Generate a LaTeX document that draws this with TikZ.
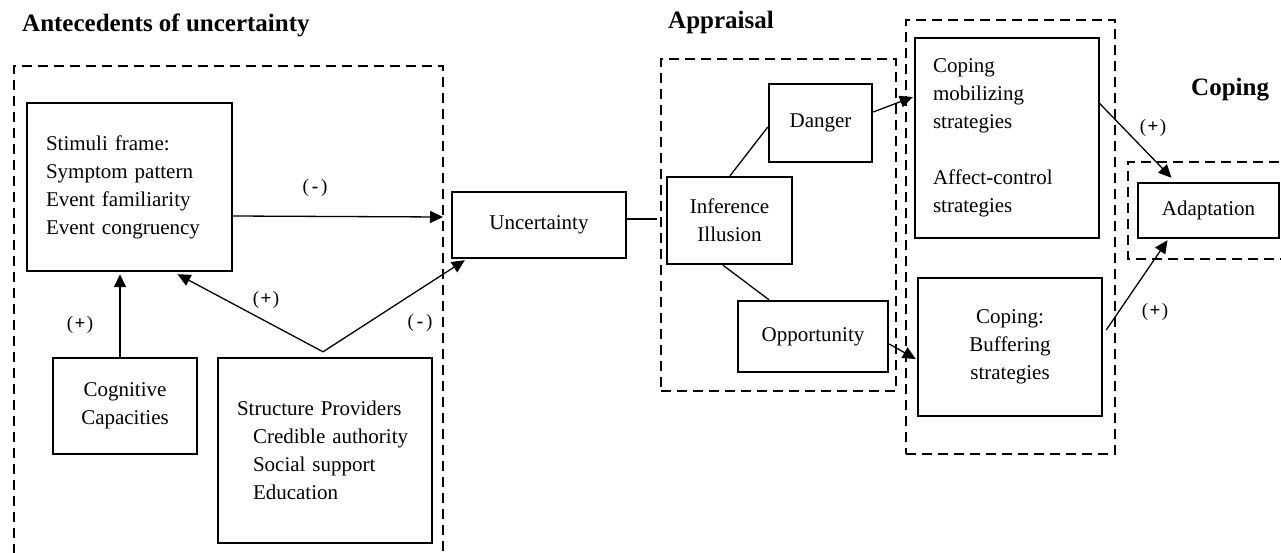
\documentclass[tikz,border=0pt]{standalone}
\usepackage{fontspec}
\setmainfont{Liberation Serif}
\usetikzlibrary{arrows.meta,calc}
\begin{document}
\begin{tikzpicture}[x=1pt,y=-1pt,
  box/.style={draw,line width=2.4pt,inner sep=0pt,font=\fontsize{21}{28}\selectfont},
  frame/.style={draw,line width=2pt,dash pattern=on 10pt off 6pt},
  arr/.style={line width=1.3pt,-{Triangle[length=13pt,width=12pt]}},
  conn/.style={line width=1.3pt},
  lab/.style={font=\fontsize{19}{19}\selectfont,inner sep=0pt},
  ttl/.style={font=\bfseries\fontsize{25}{25}\selectfont,inner sep=0pt,anchor=west}]
\useasboundingbox (0,0) rectangle (1281,552);

% titles
\node[ttl] (t1) at (22,25) {Antecedents of uncertainty};
\node[ttl] (t2) at (668,22) {Appraisal};
\node[ttl] (t3) at (1191,90) {Coping};

% dashed frames
\draw[frame] (14,570) -- (14,66) -- (443,66) -- (443,570);
\coordinate (lfr) at (443,66);
\node[frame,minimum width=235pt,minimum height=332pt,inner sep=0pt] (apf) at (778.5,225) {};
\node[frame,minimum width=209pt,minimum height=434pt,inner sep=0pt] (cpf) at (1010.5,237) {};
\draw[frame] (1295,162) -- (1128,162) -- (1128,259) -- (1295,259);

% boxes
\node[box,minimum width=205pt,minimum height=168pt,text width=167pt,inner xsep=19pt,align=left] (stim) at (129.5,187)
  {Stimuli frame:\\Symptom pattern\\Event familiarity\\Event congruency};
\node[box,minimum width=144pt,minimum height=96pt,text width=130pt,align=center] (cog) at (125,406)
  {Cognitive\\Capacities};
\node[box,minimum width=214pt,minimum height=185pt,text width=176pt,inner xsep=19pt,align=left] (sp) at (325,450.5)
  {Structure Providers\\\hspace*{16pt}Credible authority\\\hspace*{16pt}Social support\\\hspace*{16pt}Education};
\node[box,minimum width=174pt,minimum height=66pt] (unc) at (539,225) {Uncertainty};
\node[box,minimum width=125pt,minimum height=87pt,text width=115pt,align=center] (inf) at (729.5,220.5) {Inference\\Illusion};
\node[box,minimum width=103pt,minimum height=78pt] (dan) at (820.5,123) {Danger};
\node[box,minimum width=150pt,minimum height=71pt] (opp) at (813,336.5) {Opportunity};
\node[box,minimum width=184pt,minimum height=200pt,text width=148pt,inner xsep=18pt,align=left] (cm) at (1007,138)
  {Coping\\mobilizing\\strategies\\[28pt]Affect-control\\strategies};
\node[box,minimum width=184pt,minimum height=138pt,text width=170pt,align=center] (buf) at (1010,347)
  {Coping:\\Buffering\\strategies};
\node[box,minimum width=141pt,minimum height=55pt] (ad) at (1208.5,210.5) {Adaptation};

% connectors
\draw[arr] ($(stim.east)+(0,29)$) -- ($(unc.west -| lfr)+(0,-8)$);
\coordinate (sj) at ($(sp.north)+(-2,-5)$);
\draw[arr] (sj) -- ($(unc.south west)+(14,1)$);
\draw[arr] (sj) -- ($(stim.south)+(48,2)$);
\draw[arr] ($(cog.north)+(-5,0)$) -- ($(cog.north |- stim.south)+(-5,2)$);
\draw[conn] ($(unc.east)+(0,-6)$) -- ($(unc.east -| apf.west)+(-3,-6)$);
\draw[conn] ($(inf.north)+(0.5,0)$) -- ($(dan.west)+(0,4)$);
\draw[conn] ($(inf.south)+(-6.5,0)$) -- ($(opp.north)+(-44,0)$);
\draw[arr] ($(dan.east)+(0,-11)$) -- ($(cm.west)+(-1,-41)$);
\draw[arr] ($(opp.east)+(0,7.5)$) -- ($(buf.west)+(-1,12)$);
\draw[arr] ($(cm.east)+(-2,-36)$) -- ($(ad.north)+(-37,-4)$);
\draw[arr] ($(buf.east)+(3,-17)$) -- ($(ad.south)+(-41,1)$);

% labels
\node[lab] (m1) at (315,188) {(\kern3pt\textbf{-}\kern3pt)};
\node[lab] (p1) at (266,300) {(\kern1.5pt\textbf{+}\kern1.5pt)};
\node[lab] (m2) at (420,323) {(\kern3pt\textbf{-}\kern3pt)};
\node[lab] (p2) at (80,325) {(\kern1.5pt\textbf{+}\kern1.5pt)};
\node[lab] (p3) at (1153,128) {(\kern1.5pt\textbf{+}\kern1.5pt)};
\node[lab] (p4) at (1155,312) {(\kern1.5pt\textbf{+}\kern1.5pt)};
\end{tikzpicture}
\end{document}
